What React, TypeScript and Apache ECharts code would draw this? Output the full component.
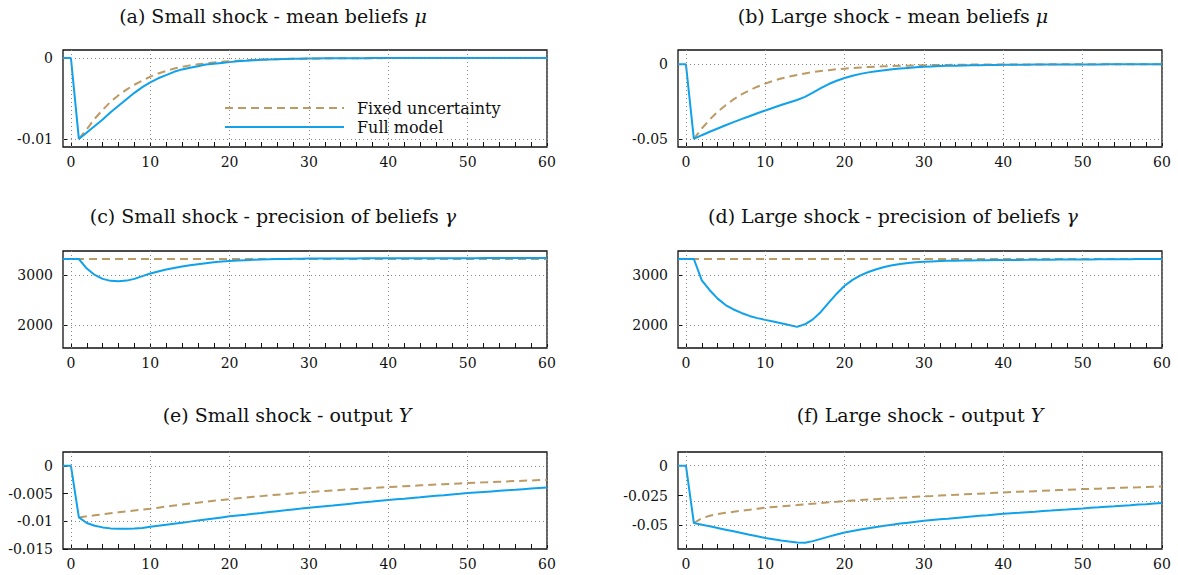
import React, { useEffect, useRef } from "react";
import * as echarts from "echarts";

// periods -1 .. 60
const periods: number[] = Array.from({ length: 62 }, (_, i) => i - 1);

const xLabelValues = [0, 10, 20, 30, 40, 50, 60];
const xTickValues = [0, 2, 4, 6, 8, 10, 12, 14, 16, 18, 20, 22, 24, 26, 28, 30, 32, 34, 36, 38, 40, 42, 44, 46, 48, 50, 52, 54, 56, 58, 60];

// (a) small shock - mean beliefs
const smallMeanFull = [0, 0, -0.01, -0.0092, -0.0084, -0.0076, -0.0067, -0.0059, -0.0051, -0.0043, -0.0036, -0.003, -0.0025, -0.0021, -0.0017, -0.0014, -0.0012, -0.001, -0.0008, -0.0007, -0.0006, -0.0005, -0.0004, -0.00033, -0.00027, -0.00022, -0.00018, -0.00014, -0.00011, -0.00009, -0.00007, -0.00005, -0.00004, -0.00003, -0.00002, -0.00002, -0.00001, -0.00001, -0.00001, 0, 0, 0, 0, 0, 0, 0, 0, 0, 0, 0, 0, 0, 0, 0, 0, 0, 0, 0, 0, 0, 0, 0];
const smallMeanFixed = [null, null, -0.01, -0.0088, -0.0075, -0.0064, -0.0054, -0.0046, -0.0039, -0.0033, -0.0028, -0.0023, -0.0019, -0.0016, -0.0013, -0.0011, -0.0009, -0.00077, -0.00065, -0.00055, -0.00046, -0.00039, -0.00033, -0.00027, -0.00023, -0.00019, -0.00016, -0.00013, -0.00011, -0.00009, -0.00007, -0.00006, -0.00005, -0.00004, -0.00003, -0.00003, -0.00002, -0.00002, -0.00001, -0.00001, -0.00001, 0, 0, 0, 0, 0, 0, 0, 0, 0, 0, 0, 0, 0, 0, 0, 0, 0, 0, 0, 0, 0];

// (b) large shock - mean beliefs
const largeMeanFull = [0, 0, -0.05, -0.0475, -0.0452, -0.043, -0.0408, -0.0387, -0.0367, -0.0348, -0.0328, -0.0309, -0.0291, -0.0273, -0.0256, -0.0239, -0.0218, -0.019, -0.016, -0.0132, -0.011, -0.0092, -0.0077, -0.0064, -0.0054, -0.0046, -0.0039, -0.0033, -0.0028, -0.0024, -0.002, -0.0017, -0.0014, -0.0012, -0.001, -0.0009, -0.0008, -0.0007, -0.0006, -0.0005, -0.0004, -0.00035, -0.0003, -0.00026, -0.00022, -0.00019, -0.00016, -0.00013, -0.00011, -0.00009, -0.00007, -0.00006, -0.00005, -0.00004, -0.00003, -0.00003, -0.00002, -0.00002, -0.00001, -0.00001, -0.00001, 0];
const largeMeanFixed = [null, null, -0.05, -0.043, -0.037, -0.0318, -0.0274, -0.0235, -0.0202, -0.0174, -0.015, -0.0129, -0.0111, -0.0095, -0.0082, -0.0071, -0.0061, -0.0052, -0.0045, -0.0039, -0.0033, -0.0029, -0.0025, -0.0021, -0.0018, -0.0016, -0.0013, -0.0012, -0.001, -0.0009, -0.0007, -0.0006, -0.0005, -0.0005, -0.0004, -0.0003, -0.0003, -0.0002, -0.0002, -0.00015, -0.00013, -0.0001, -0.00008, -0.00007, -0.00006, -0.00005, -0.00004, -0.00003, -0.00003, -0.00002, -0.00002, -0.00001, 0, 0, 0, 0, 0, 0, 0, 0, 0, 0];

// (c) small shock - precision of beliefs
const smallPrecFull = [3333, 3333, 3333, 3140, 3010, 2930, 2890, 2880, 2895, 2930, 2985, 3040, 3080, 3120, 3150, 3180, 3205, 3228, 3248, 3265, 3280, 3292, 3302, 3310, 3317, 3322, 3327, 3331, 3334, 3337, 3339, 3341, 3342, 3343, 3344, 3344, 3345, 3345, 3346, 3346, 3347, 3347, 3347, 3348, 3348, 3348, 3349, 3349, 3349, 3350, 3350, 3350, 3350, 3351, 3351, 3351, 3351, 3352, 3352, 3352, 3352, 3352];
const smallPrecFixed = [3333, 3333, 3333, 3333, 3333, 3333, 3333, 3333, 3333, 3333, 3333, 3333, 3333, 3333, 3333, 3333, 3333, 3333, 3333, 3333, 3333, 3333, 3333, 3333, 3333, 3333, 3333, 3333, 3333, 3333, 3333, 3333, 3333, 3333, 3333, 3333, 3333, 3333, 3333, 3333, 3333, 3333, 3333, 3333, 3333, 3333, 3333, 3333, 3333, 3333, 3333, 3333, 3333, 3333, 3333, 3333, 3333, 3333, 3333, 3333, 3333, 3333];

// (d) large shock - precision of beliefs
const largePrecFull = [3333, 3333, 3333, 2900, 2700, 2530, 2400, 2310, 2240, 2180, 2135, 2100, 2065, 2030, 1995, 1958, 2010, 2110, 2260, 2450, 2630, 2790, 2910, 3000, 3070, 3125, 3170, 3205, 3230, 3250, 3265, 3275, 3283, 3290, 3295, 3299, 3302, 3305, 3307, 3309, 3311, 3312, 3314, 3315, 3316, 3318, 3319, 3320, 3321, 3322, 3323, 3324, 3325, 3326, 3327, 3328, 3329, 3330, 3331, 3332, 3333, 3334];
const largePrecFixed = [3333, 3333, 3333, 3333, 3333, 3333, 3333, 3333, 3333, 3333, 3333, 3333, 3333, 3333, 3333, 3333, 3333, 3333, 3333, 3333, 3333, 3333, 3333, 3333, 3333, 3333, 3333, 3333, 3333, 3333, 3333, 3333, 3333, 3333, 3333, 3333, 3333, 3333, 3333, 3333, 3333, 3333, 3333, 3333, 3333, 3333, 3333, 3333, 3333, 3333, 3333, 3333, 3333, 3333, 3333, 3333, 3333, 3333, 3333, 3333, 3333, 3333];

// (e) small shock - output
const smallOutFull = [0, 0, -0.0093, -0.0103, -0.0108, -0.0111, -0.01128, -0.01135, -0.01135, -0.01128, -0.0112, -0.011, -0.01082, -0.01063, -0.01044, -0.01025, -0.01006, -0.00987, -0.00968, -0.00949, -0.0093, -0.00911, -0.00895, -0.0088, -0.00864, -0.00849, -0.00833, -0.00817, -0.00802, -0.00786, -0.00771, -0.00755, -0.00741, -0.00727, -0.00714, -0.007, -0.00686, -0.00672, -0.00658, -0.00645, -0.00631, -0.00617, -0.00604, -0.00592, -0.00579, -0.00567, -0.00554, -0.00541, -0.00529, -0.00516, -0.00504, -0.00491, -0.00481, -0.00471, -0.00461, -0.00451, -0.00441, -0.00431, -0.0042, -0.0041, -0.004, -0.0039];
const smallOutFixed = [null, null, -0.0093, -0.00911, -0.00892, -0.00874, -0.00856, -0.00839, -0.00822, -0.00805, -0.00789, -0.00773, -0.00754, -0.00735, -0.00716, -0.00699, -0.00681, -0.00664, -0.00648, -0.00631, -0.00616, -0.006, -0.00586, -0.00572, -0.00559, -0.00546, -0.00533, -0.0052, -0.00508, -0.00496, -0.00484, -0.00473, -0.00463, -0.00453, -0.00444, -0.00434, -0.00425, -0.00416, -0.00408, -0.00399, -0.00391, -0.00383, -0.00375, -0.00367, -0.0036, -0.00352, -0.00345, -0.00338, -0.00331, -0.00324, -0.00317, -0.00311, -0.00304, -0.00298, -0.00292, -0.00286, -0.0028, -0.00274, -0.00268, -0.00263, -0.00257, -0.00252];

// (f) large shock - output
const largeOutFull = [0, 0, -0.048, -0.0494, -0.0508, -0.0522, -0.0536, -0.055, -0.0564, -0.0578, -0.0592, -0.0605, -0.0616, -0.0627, -0.0636, -0.0643, -0.0645, -0.0632, -0.0613, -0.0594, -0.0576, -0.056, -0.0547, -0.0535, -0.0524, -0.0513, -0.0503, -0.0494, -0.0485, -0.0477, -0.0469, -0.0461, -0.0455, -0.0449, -0.0444, -0.0438, -0.0432, -0.0426, -0.042, -0.0415, -0.0409, -0.0403, -0.0398, -0.0394, -0.0389, -0.0385, -0.038, -0.0376, -0.0371, -0.0367, -0.0362, -0.0358, -0.0353, -0.0349, -0.0344, -0.034, -0.0335, -0.0331, -0.0326, -0.0322, -0.0317, -0.0313];
const largeOutFixed = [null, null, -0.048, -0.044, -0.042, -0.0405, -0.0395, -0.0386, -0.0377, -0.0369, -0.036, -0.0352, -0.0346, -0.0341, -0.0335, -0.033, -0.0324, -0.0318, -0.0313, -0.0307, -0.0302, -0.0296, -0.0292, -0.0288, -0.0284, -0.028, -0.0276, -0.0273, -0.0269, -0.0265, -0.0261, -0.0257, -0.0254, -0.025, -0.0247, -0.0244, -0.024, -0.0237, -0.0234, -0.0231, -0.0227, -0.0224, -0.0221, -0.0218, -0.0216, -0.0213, -0.021, -0.0207, -0.0204, -0.0202, -0.0199, -0.0196, -0.0194, -0.0192, -0.0189, -0.0187, -0.0185, -0.0183, -0.0181, -0.0178, -0.0176, -0.0174];

const panelTitles = [
  "(a) Small shock - mean beliefs {m|μ}",
  "(b) Large shock - mean beliefs {m|μ}",
  "(c) Small shock - precision of beliefs {m|γ}",
  "(d) Large shock - precision of beliefs {m|γ}",
  "(e) Small shock - output {m|Y}",
  "(f) Large shock - output {m|Y}",
];
const yTicks = [
  [-0.01, 0],
  [-0.05, 0],
  [2000, 3000],
  [2000, 3000],
  [-0.015, -0.01, -0.005, 0],
  [-0.05, -0.025, 0],
];
const yGridValues = [
  [-0.01, 0],
  [-0.05, 0],
  [2000, 3000],
  [2000, 3000],
  [-0.01, -0.005, 0],
  [-0.05, -0.025, 0],
];
const yRanges = [
  [-0.011, 0.001],
  [-0.0554, 0.0096],
  [1530, 3495],
  [1530, 3495],
  [-0.015, 0.0025],
  [-0.0698, 0.0115],
];
const fullSeries = [smallMeanFull, largeMeanFull, smallPrecFull, largePrecFull, smallOutFull, largeOutFull];
const fixedSeries = [smallMeanFixed, largeMeanFixed, smallPrecFixed, largePrecFixed, smallOutFixed, largeOutFixed];

const FONT = "DejaVu Serif";
const BLUE = "#0FA2EA";
const TAN = "#BC9A64";

const gridLefts = [63, 678];
const gridTops = [50, 251, 452];
const titleCenters = [
  [273, 17],
  [893, 17],
  [273, 217],
  [893, 217],
  [287, 416],
  [920, 416],
];

function toPairs(arr: (number | null)[]) {
  const out: [number, number][] = [];
  arr.forEach((v, i) => {
    if (v !== null) out.push([periods[i], v]);
  });
  return out;
}

export default function App() {
  const ref = useRef<HTMLDivElement>(null);
  useEffect(() => {
    if (!ref.current) return;
    const chart = echarts.init(ref.current, undefined, { renderer: "svg" });
    const grids: any[] = [];
    const xAxes: any[] = [];
    const yAxes: any[] = [];
    const series: any[] = [];
    const titles: any[] = [];
    for (let i = 0; i < 6; i++) {
      const col = i % 2;
      const row = Math.floor(i / 2);
      grids.push({
        left: gridLefts[col],
        top: gridTops[row],
        width: 484,
        height: 97,
        show: true,
        borderColor: "#111",
        borderWidth: 1.3,
        backgroundColor: "transparent",
      });
      xAxes.push({
        type: "value",
        gridIndex: i,
        position: "bottom",
        min: -1,
        max: 60,
        axisLine: { show: false, onZero: false },
        axisTick: {
          show: true,
          inside: true,
          length: 5,
          customValues: xTickValues,
          lineStyle: { color: "#111", width: 1 },
        },
        axisLabel: {
          customValues: xLabelValues,
          margin: 8,
          fontFamily: FONT,
          fontSize: 14,
          color: "#111",
          formatter: (v: number) => String(v),
        },
        splitLine: { show: false },
      });
      yAxes.push({
        type: "value",
        gridIndex: i,
        position: "left",
        min: yRanges[i][0],
        max: yRanges[i][1],
        axisLine: { show: false, onZero: false },
        axisTick: {
          show: true,
          inside: true,
          length: 5,
          customValues: yTicks[i],
          lineStyle: { color: "#111", width: 1 },
        },
        axisLabel: {
          customValues: yTicks[i],
          margin: 10,
          fontFamily: FONT,
          fontSize: 14,
          color: "#111",
          formatter: (v: number) => String(v),
        },
        splitLine: { show: false },
      });
      titles.push({
        text: panelTitles[i],
        left: titleCenters[i][0],
        top: titleCenters[i][1] - 11,
        textAlign: "center",
        padding: 0,
        textStyle: {
          fontFamily: FONT,
          fontSize: 19,
          fontWeight: "normal",
          color: "#111",
          rich: {
            m: { fontFamily: FONT, fontSize: 19, fontStyle: "italic", color: "#111" },
          },
        },
      });
      series.push({
        type: "line",
        name: "Fixed uncertainty",
        xAxisIndex: i,
        yAxisIndex: i,
        data: toPairs(fixedSeries[i]),
        showSymbol: false,
        symbol: "none",
        z: 2,
        lineStyle: { color: TAN, width: 2, type: [8, 5] },
        itemStyle: { color: TAN },
        markLine: {
          silent: true,
          symbol: ["none", "none"],
          label: { show: false },
          emphasis: { disabled: true },
          animation: false,
          lineStyle: { color: "#888", width: 1, type: [1, 3] },
          data: [
            ...xLabelValues.map((v) => ({ xAxis: v })),
            ...yGridValues[i].map((v) => ({ yAxis: v })),
          ],
        },
      });
      series.push({
        type: "line",
        name: "Full model",
        xAxisIndex: i,
        yAxisIndex: i,
        data: toPairs(fullSeries[i]),
        showSymbol: false,
        symbol: "none",
        z: 3,
        lineStyle: { color: BLUE, width: 2 },
        itemStyle: { color: BLUE },
      });
    }
    chart.setOption({
      animation: false,
      backgroundColor: "#fff",
      title: titles,
      grid: grids,
      xAxis: xAxes,
      yAxis: yAxes,
      legend: {
        orient: "vertical",
        left: 224,
        top: 100,
        padding: 0,
        itemWidth: 119,
        itemHeight: 14,
        itemGap: 3,
        itemStyle: { opacity: 0, borderWidth: 0 },
        data: ["Fixed uncertainty", "Full model"],
        textStyle: { fontFamily: FONT, fontSize: 16, color: "#111", padding: [0, 0, 0, 8] },
      },
      series,
    });
    return () => chart.dispose();
  }, []);
  return (
    <div
      ref={ref}
      style={{ position: "fixed", left: 0, top: 0, width: 1178, height: 575, background: "#fff" }}
    />
  );
}
